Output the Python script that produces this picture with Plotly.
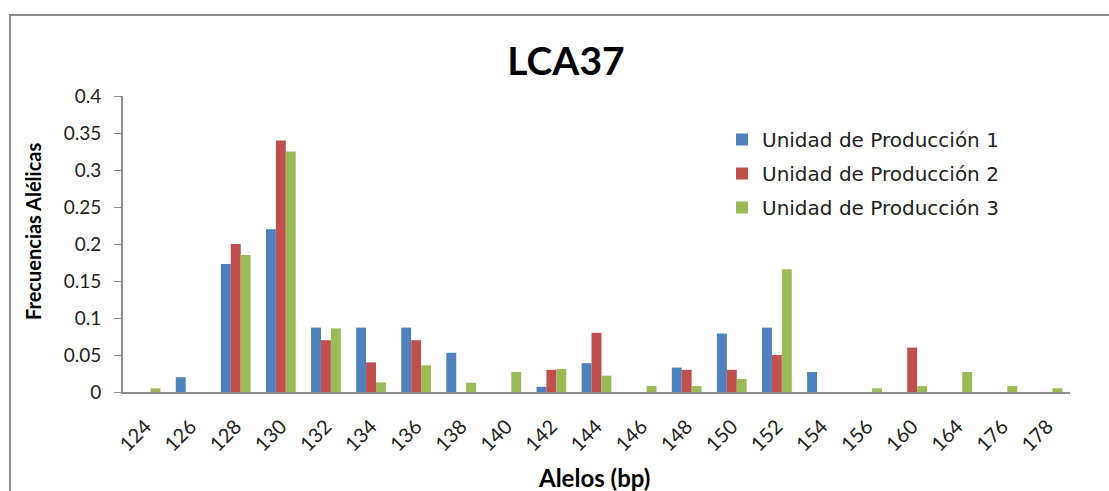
import plotly.graph_objects as go

alelos = ["124", "126", "128", "130", "132", "134", "136", "138", "140", "142", "144",
          "146", "148", "150", "152", "154", "156", "160", "164", "176", "178"]
up1 = [0, 0.02, 0.173, 0.22, 0.087, 0.087, 0.087, 0.053, 0, 0.007, 0.039,
       0, 0.033, 0.079, 0.087, 0.027, 0, 0, 0, 0, 0]
up2 = [0, 0, 0.2, 0.34, 0.07, 0.04, 0.07, 0, 0, 0.03, 0.08,
       0, 0.03, 0.03, 0.05, 0, 0, 0.06, 0, 0, 0]
up3 = [0.005, 0, 0.185, 0.325, 0.086, 0.013, 0.036, 0.0125, 0.027, 0.031, 0.022,
       0.008, 0.008, 0.0175, 0.166, 0, 0.005, 0.008, 0.027, 0.008, 0.005]
names = ["Unidad de Producción 1", "Unidad de Producción 2", "Unidad de Producción 3"]
colors = ["#4F81BD", "#C0504D", "#9BBB59"]
yticks = [0, 0.05, 0.1, 0.15, 0.2, 0.25, 0.3, 0.35, 0.4]
ytext = ["0", "0.05", "0.1", "0.15", "0.2", "0.25", "0.3", "0.35", "0.4"]

FONT = "Lato, Calibri, Carlito, sans-serif"
LFONT = "DejaVu Sans, Verdana, sans-serif"

fig = go.Figure()
for i, (vals, nm, c) in enumerate(zip([up1, up2, up3], names, colors)):
    fig.add_trace(go.Bar(x=alelos, y=vals, name=nm, legendgroup=f"g{i}",
                         marker=dict(color=c, line=dict(width=0))))

W, H = 1109, 491
L, R, T, B = 123, 39, 96, 99
pw, ph = W - L - R, H - T - B

def px(x):
    return (x - L) / pw

def py(y):
    return (H - B - y) / ph

fig.update_layout(
    width=W, height=H,
    margin=dict(l=L, r=R, t=T, b=B),
    paper_bgcolor="white", plot_bgcolor="white",
    barmode="group", bargap=0.34, bargroupgap=0,
    font=dict(family=FONT, color="#000000"),
    title=dict(text="<b>LCA37</b>", x=566 / W, xanchor="center", y=1 - 61 / H, yanchor="middle",
               font=dict(size=39, family=FONT, color="#000000")),
    legend=dict(x=px(722), y=py(120), xanchor="left", yanchor="top",
                font=dict(size=20, family=LFONT, color="#222222"), tracegroupgap=5,
                itemwidth=30, bgcolor="rgba(0,0,0,0)"),
    xaxis=dict(type="category", tickangle=-45, tickfont=dict(size=20, family=FONT, color="#222222"),
               showline=True, linecolor="#8C8C8C", linewidth=2, ticks="", showgrid=False,
               ticklabelstandoff=13),
    yaxis=dict(range=[0, 0.4], tickvals=yticks, ticktext=ytext,
               tickfont=dict(size=19, family=FONT, color="#222222"),
               showline=True, linecolor="#8C8C8C", linewidth=2, ticks="outside", ticklen=7,
               tickcolor="#8C8C8C", showgrid=False, zeroline=False, ticklabelstandoff=9),
    annotations=[
        dict(text="<b>Frecuencias Alélicas</b>", textangle=-90, xref="paper", yref="paper",
             x=px(33), y=py(232), xanchor="center", yanchor="middle", showarrow=False,
             font=dict(size=20, family=FONT, color="#000000")),
        dict(text="<b>Alelos (bp)</b>", xref="paper", yref="paper",
             x=px(594), y=py(477), xanchor="center", yanchor="middle", showarrow=False,
             font=dict(size=24, family=FONT, color="#000000")),
    ],
    shapes=[dict(type="rect", xref="paper", yref="paper",
                 x0=px(10), x1=px(W + 20), y0=py(H + 20), y1=py(15),
                 line=dict(color="#8C8C8C", width=2), fillcolor="rgba(0,0,0,0)", layer="below")],
)

fig.write_html("out.html")
